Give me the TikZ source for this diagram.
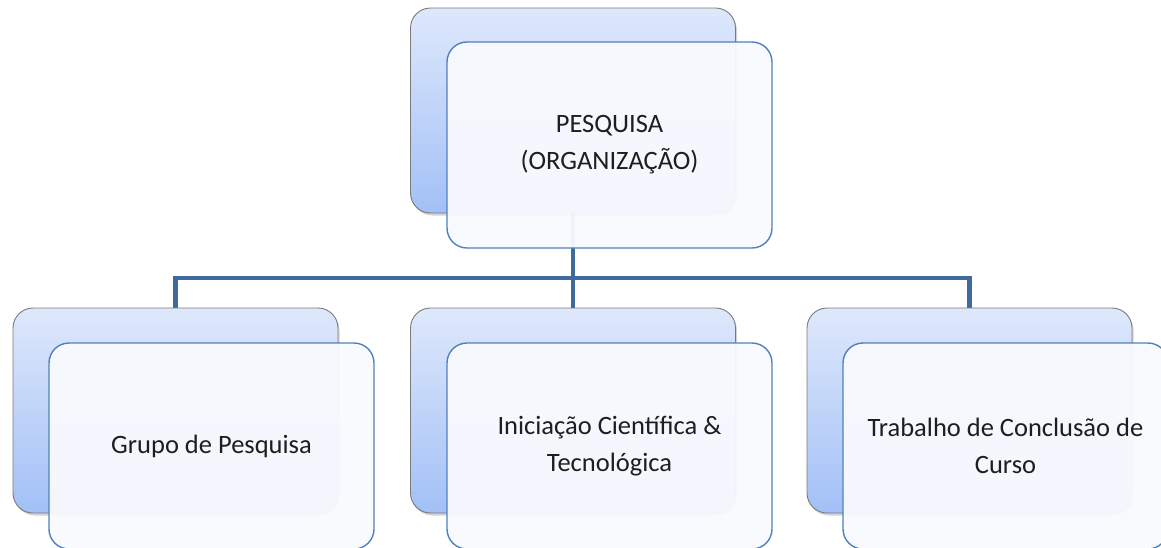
\documentclass[tikz,border=0pt]{standalone}
\usepackage{fontspec}
\setmainfont{Carlito}
\usetikzlibrary{shadows}
\definecolor{backtop}{HTML}{DEE8FB}
\definecolor{backbot}{HTML}{A2C0F7}
\definecolor{backline}{HTML}{7A7A7A}
\definecolor{frontfill}{HTML}{F8FAFE}
\definecolor{frontline}{HTML}{4F81BD}
\definecolor{conncol}{HTML}{3E6A9C}
\definecolor{txt}{HTML}{1E1E1E}
\tikzset{
  backbox/.style={rectangle, rounded corners=20pt, minimum width=325pt, minimum height=205pt,
    draw=backline, line width=0.9pt, top color=backtop, bottom color=backbot,
    drop shadow={shadow xshift=1.5pt, shadow yshift=-2.5pt, opacity=0.35}},
  anchorbox/.style={rectangle, minimum width=325pt, minimum height=205pt, inner sep=0pt},
  frontbox/.style={rectangle, rounded corners=20pt, minimum width=325pt, minimum height=206pt,
    draw=frontline, line width=1.4pt, fill=frontfill, fill opacity=0.95, text opacity=1,
    align=center, text=txt, font=\fontsize{26.5}{37}\selectfont},
  conn/.style={draw=conncol, line width=4.5pt}
}
\begin{document}
\begin{tikzpicture}[x=1pt,y=-1pt]
\useasboundingbox (0,0) rectangle (1161,547);
\begin{scope}
\clip (0,0) rectangle (1161,547);
% anchors for connectors (invisible)
\coordinate (bar) at (573,278);
\node[anchorbox] (tbx) at (573,110.5) {};
\node[anchorbox] (lbx) at (175.5,410.5) {};
\node[anchorbox] (mbx) at (573,410.5) {};
\node[anchorbox] (rbx) at (969.5,410.5) {};
\draw[conn] (tbx.south) -- (mbx.north);
\draw[conn] (lbx.north) |- (bar) -| (rbx.north);
% back boxes
\node[backbox] (tb) at (573,110.5) {};
\node[backbox] (lb) at (175.5,410.5) {};
\node[backbox] (mb) at (573,410.5) {};
\node[backbox] (rb) at (969.5,410.5) {};
% front boxes
\node[frontbox] (tf) at (609.5,145) {PESQUISA\\(ORGANIZAÇÃO)};
\node[frontbox] (lf) at (211.5,446) {Grupo de Pesquisa};
\node[frontbox] (mf) at (609.5,446) {Iniciação Científica \&\\Tecnológica};
\node[frontbox] (rf) at (1005.5,446) {Trabalho de Conclusão de\\Curso};
\end{scope}
\end{tikzpicture}
\end{document}
